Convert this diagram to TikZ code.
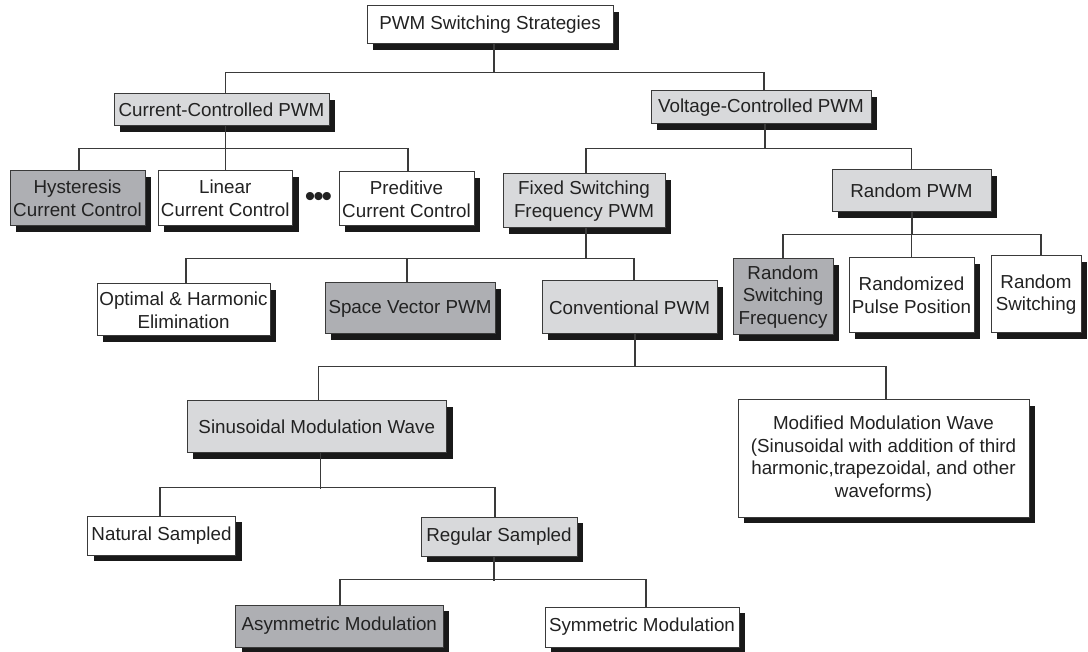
\documentclass[tikz,border=0pt]{standalone}
\usepackage{fontspec}
\setmainfont{Liberation Sans}
\usetikzlibrary{shadows}
\definecolor{lightfill}{HTML}{D8D9DB}
\definecolor{darkfill}{HTML}{AEAFB3}
\definecolor{edgecol}{HTML}{3A3A3A}
\definecolor{txtcol}{HTML}{222222}
\tikzset{
  box/.style={draw=edgecol, line width=1pt, rectangle, inner sep=0pt, align=center,
    text=txtcol, font=\fontsize{18.8}{22.6}\selectfont,
    drop shadow={shadow xshift=6pt, shadow yshift=-6pt, fill=black!90, opacity=1}},
  whitebox/.style={box, fill=white},
  lightbox/.style={box, fill=lightfill},
  darkbox/.style={box, fill=darkfill},
  conn/.style={draw=edgecol, line width=1.2pt},
}
\begin{document}
\begin{tikzpicture}[x=1pt, y=-1pt]
\useasboundingbox (0,0) rectangle (1088,652);
% level 0
\node[whitebox, minimum width=246pt, minimum height=38pt] (root) at (490,25) {PWM Switching Strategies};
% level 1
\node[lightbox, minimum width=215pt, minimum height=32pt] (cc) at (221.5,110) {Current-Controlled PWM};
\node[lightbox, minimum width=220pt, minimum height=33pt] (vc) at (761,107.5) {Voltage-Controlled PWM};
% level 2 (current)
\node[darkbox, minimum width=135pt, minimum height=55pt] (hyst) at (77.5,198.5) {Hysteresis\\Current Control};
\node[whitebox, minimum width=134.5pt, minimum height=55pt] (lin) at (225.25,198.5) {Linear\\Current Control};
\node[text=txtcol, font=\fontsize{30}{30}\selectfont, inner sep=0pt] (dots) at (318.5,200) {•\kern-2.2pt•\kern-2.2pt•};
\node[whitebox, minimum width=135pt, minimum height=54pt] (pred) at (406.5,199) {Preditive\\Current Control};
% level 2 (voltage)
\node[lightbox, minimum width=162pt, minimum height=54pt] (fixed) at (584,201) {Fixed Switching\\Frequency PWM};
\node[lightbox, minimum width=159pt, minimum height=42pt] (rand) at (911.5,191) {Random PWM};
% level 3
\node[whitebox, minimum width=173pt, minimum height=52pt] (opt) at (183.5,310) {Optimal \& Harmonic\\Elimination};
\node[darkbox, minimum width=170pt, minimum height=51pt] (svm) at (410,308.5) {Space Vector PWM};
\node[lightbox, minimum width=175pt, minimum height=53pt] (conv) at (629.5,307.5) {Conventional PWM};
\node[darkbox, minimum width=100pt, minimum height=76pt] (rsf) at (783,297) {Random\\Switching\\Frequency};
\node[whitebox, minimum width=125pt, minimum height=75pt] (rpp) at (911.5,295.5) {Randomized\\Pulse Position};
\node[whitebox, minimum width=90pt, minimum height=77pt] (rs) at (1036,294.5) {Random\\Switching};
% level 4
\node[lightbox, minimum width=259.5pt, minimum height=52pt] (sin) at (316.75,427) {Sinusoidal Modulation Wave};
\node[whitebox, minimum width=291pt, minimum height=117pt] (mod) at (883.5,458.5) {Modified Modulation Wave\\(Sinusoidal with addition of third\\harmonic,trapezoidal, and other\\waveforms)};
% level 5
\node[whitebox, minimum width=148pt, minimum height=39pt] (nat) at (161.5,535.5) {Natural Sampled};
\node[lightbox, minimum width=156pt, minimum height=39pt] (reg) at (499,536.5) {Regular Sampled};
% level 6
\node[darkbox, minimum width=207.4pt, minimum height=42pt] (asym) at (339.3,626) {Asymmetric Modulation};
\node[whitebox, minimum width=194pt, minimum height=40pt] (sym) at (642,627) {Symmetric Modulation};

% connectors
\draw[conn] ([xshift=4pt]root.south) -- ++(0,29);
\draw[conn] ([xshift=4pt]cc.north) -- ++(0,-21) -| ([xshift=3pt]vc.north);

\draw[conn] ([xshift=4pt]cc.south) -- ++(0,23);
\draw[conn] ([xshift=1.5pt]hyst.north) -- ++(0,-22) -| ([xshift=1.5pt]pred.north);
\draw[conn] (lin.north) -- ++(0,-22);

\draw[conn] ([xshift=4pt]vc.south) -- ++(0,25);
\draw[conn] ([xshift=2pt]fixed.north) -- ++(0,-25) -| (rand.north);

\draw[conn] ([xshift=2pt]fixed.south) -- ++(0,31);
\draw[conn] ([xshift=2.5pt]opt.north) -- ++(0,-25) -| ([xshift=4.5pt]conv.north);
\draw[conn] ([xshift=-3pt]svm.north) -- ++(0,-24);

\draw[conn] ([xshift=0.5pt]rand.south) -- ++(0,23);
\draw[conn] (rsf.north) -- ++(0,-24) -| ([xshift=5pt]rs.north);
\draw[conn] (rpp.north) -- ++(0,-23);

\draw[conn] ([xshift=5.5pt]conv.south) -- ++(0,33);
\draw[conn] ([xshift=1.75pt]sin.north) -- ++(0,-34) -| ([xshift=2.5pt]mod.north);

\draw[conn] ([xshift=4pt]sin.south) -- ++(0,35);
\draw[conn] ([xshift=-1.5pt]nat.north) -- ++(0,-28) -| ([xshift=-4pt]reg.north);

\draw[conn] ([xshift=-5pt]reg.south) -- ++(0,24);
\draw[conn] ([xshift=0.7pt]asym.north) -- ++(0,-25) -| ([xshift=4pt]sym.north);
\end{tikzpicture}
\end{document}
